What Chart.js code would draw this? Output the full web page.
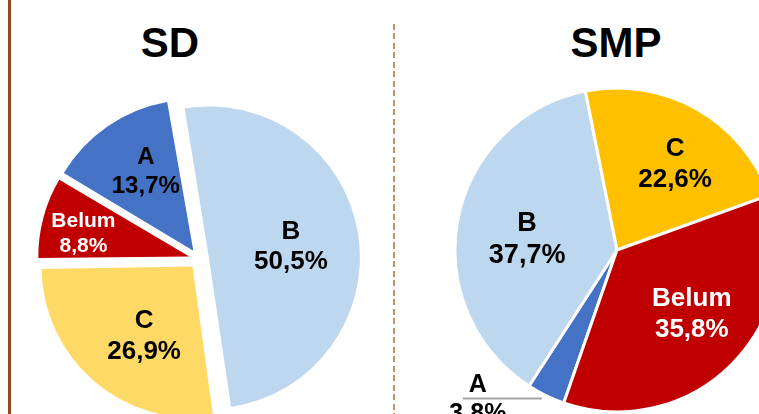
<!DOCTYPE html>
<html>
<head>
<meta charset="utf-8">
<script src="https://cdn.jsdelivr.net/npm/chart.js@4/dist/chart.umd.min.js"></script>
<style>
  html, body { margin: 0; padding: 0; background: #fff; }
  body { width: 759px; height: 414px; overflow: hidden; position: relative; font-family: "Liberation Sans", Arial, sans-serif; }
  canvas { position: absolute; }
  .title { position: absolute; width: 240px; text-align: center; font-weight: bold; font-size: 42px; line-height: 42px; color: #000; }
  .edge { position: absolute; left: 8px; top: 0; width: 3px; height: 414px; background: #8e4a1f; }
  .divider { position: absolute; left: 393px; top: 24px; width: 2px; height: 390px;
    background: repeating-linear-gradient(to bottom, #c8906a 0 6px, transparent 6px 9.5px); }
</style>
</head>
<body>
<div class="edge"></div>
<div class="divider"></div>
<div class="title" style="left:50px; top:22px;">SD</div>
<div class="title" style="left:496px; top:22px;">SMP</div>
<canvas id="sd"></canvas>
<canvas id="smp"></canvas>
<script>
// categories and shares (%)
const categories = ['A', 'B', 'C', 'Belum'];
const sdValues = [13.7, 50.5, 26.9, 8.8];
const smpValues = [3.8, 37.7, 22.6, 35.8];

const sdColors = ['#4472c4', '#bdd7ee', '#ffd966', '#c00000'];
const smpColors = ['#4472c4', '#bdd7ee', '#ffc000', '#c00000'];

function pct(v) {
  return v.toFixed(1).replace('.', ',') + '%';
}

// chart.js moves an exploded arc by offset/4 but also grows its radius by
// offset/4 * (1 - sin(min(PI, circ))); take the growth back so all slices
// keep the same radius, like an excel exploded pie
const evenRadius = {
  id: 'evenRadius',
  beforeDatasetsDraw(chart, args, opts) {
    chart.getDatasetMeta(0).data.forEach(arc => {
      const t = (arc.options.offset || 0) / 4;
      const fix = 1 - Math.sin(Math.min(Math.PI, arc.circumference));
      arc.outerRadius = opts.radius - t * fix;
    });
  }
};

// draws "label / value" inside each slice, or outside with a leader line
const sliceLabels = {
  id: 'sliceLabels',
  afterDatasetsDraw(chart, args, opts) {
    const ctx = chart.ctx;
    const meta = chart.getDatasetMeta(0);
    const values = chart.data.datasets[0].data;
    const R = chart.options.radius;
    meta.data.forEach((arc, i) => {
      const p = arc.getProps(['x', 'y', 'startAngle', 'endAngle']);
      const st = opts.styles[i];
      const mid = (p.startAngle + p.endAngle) / 2;
      const shift = (arc.options.offset || 0) / 4;
      const ox = p.x + Math.cos(mid) * shift;
      const oy = p.y + Math.sin(mid) * shift;
      const ang = mid + (st.turn || 0) * Math.PI / 180;
      const lines = [chart.data.labels[i], pct(values[i])];
      ctx.save();
      ctx.font = 'bold ' + st.size + 'px "Liberation Sans", Arial, sans-serif';
      ctx.fillStyle = st.color;
      ctx.textAlign = 'center';
      ctx.textBaseline = 'alphabetic';
      const cap = st.size * 0.358;
      if (st.outside) {
        const ax = ox + Math.cos(mid) * R;
        const ay = oy + Math.sin(mid) * R;
        const ly = ay + 3;
        ctx.strokeStyle = '#a6a6a6';
        ctx.lineWidth = 2;
        ctx.beginPath();
        ctx.moveTo(ax - 4, ly);
        ctx.lineTo(ax - 83, ly);
        ctx.stroke();
        const tx = ax - 68;
        ctx.fillText(lines[0], tx, ly - 15 + cap);
        ctx.fillText(lines[1], tx, ly + 14 + cap);
      } else {
        const d = st.r * R;
        const cx = ox + Math.cos(ang) * d;
        const cy = oy + Math.sin(ang) * d;
        const gap = st.size * 1.19;
        ctx.fillText(lines[0], cx, cy - gap / 2 + cap);
        ctx.fillText(lines[1], cx, cy + gap / 2 + cap);
      }
      ctx.restore();
    });
  }
};

function makePie(id, values, colors, opt) {
  const canvas = document.getElementById(id);
  const half = opt.radius + opt.explode + 6;
  canvas.width = half * 2;
  canvas.height = half * 2;
  canvas.style.left = (opt.cx - half) + 'px';
  canvas.style.top = (opt.cy - half) + 'px';
  canvas.style.width = half * 2 + 'px';
  canvas.style.height = half * 2 + 'px';

  return new Chart(canvas, {
    type: 'pie',
    data: {
      labels: categories,
      datasets: [{
        data: values,
        backgroundColor: colors,
        borderColor: '#ffffff',
        borderWidth: opt.border,
        offset: opt.explode * 4,
        hoverOffset: 0
      }]
    },
    options: {
      responsive: false,
      maintainAspectRatio: false,
      animation: false,
      devicePixelRatio: 1,
      rotation: opt.rotation,
      radius: opt.radius,
      layout: { padding: 0 },
      events: [],
      plugins: {
        legend: { display: false },
        tooltip: { enabled: false },
        evenRadius: { radius: opt.radius },
        sliceLabels: { styles: opt.labels }
      }
    },
    plugins: [evenRadius, sliceLabels]
  });
}

makePie('sd', sdValues, sdColors, {
  cx: 199, cy: 259, radius: 151, explode: 10, border: 0, rotation: 300.8,
  labels: [
    { r: 0.62, size: 24, color: '#000', turn: 4 },
    { r: 0.55, size: 26, color: '#000' },
    { r: 0.55, size: 26, color: '#000', turn: -5 },
    { r: 0.72, size: 21, color: '#fff', turn: -2 }
  ]
});

makePie('smp', smpValues, smpColors, {
  cx: 617, cy: 250, radius: 162, explode: 0, border: 3, rotation: 199.2,
  labels: [
    { outside: true, size: 25, color: '#000' },
    { r: 0.56, size: 27, color: '#000', turn: -3 },
    { r: 0.65, size: 26, color: '#000', turn: 4 },
    { r: 0.6, size: 26, color: '#fff', turn: -5 }
  ]
});
</script>
</body>
</html>
